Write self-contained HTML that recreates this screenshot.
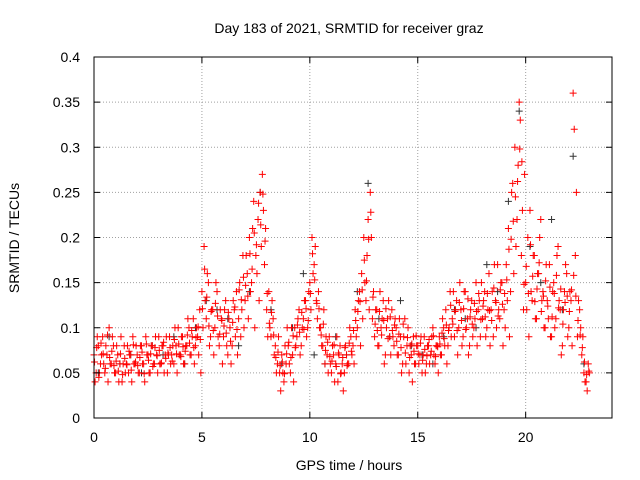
<!DOCTYPE html>
<html><head><meta charset="utf-8"><style>
body{margin:0;background:#fff;}
svg{display:block;font-family:"Liberation Sans",sans-serif;}
</style></head><body>
<svg id="chart" width="640" height="480">
<text x="349" y="33" text-anchor="middle" font-size="14">Day 183 of 2021, SRMTID for receiver graz</text>
<text x="349" y="470" text-anchor="middle" font-size="14">GPS time / hours</text>
<text transform="translate(19,238) rotate(-90)" text-anchor="middle" font-size="14">SRMTID / TECUs</text>
<g id="grid"></g><g id="marks"></g><g id="axes"></g>
</svg>
<script>
const xTicks=[0,5,10,15,20];
const yTicks=[0,0.05,0.1,0.15,0.2,0.25,0.3,0.35,0.4];
const yTickLabels=["0","0.05","0.1","0.15","0.2","0.25","0.3","0.35","0.4"];
const redStep=0.1;
const redValuesA=[.07,.05,.08,.06,.09,.05,.07,.10,.06,.08,.05,.07,.06,.04,.08,.06,.05,.07,.09,.06,.07,.05,.08,.06,.09,.07,.05,.08,.06,.07,.09,.06,.08,.07,.05,.09,.07,.06,.08,.10,.07,.09,.06,.08,.10,.07,.11,.08,.09,.12,.14,.19,.11,.15,.09,.12,.10,.14,.08,.11,.09,.13,.07,.10,.08,.12,.14,.11,.09,.18,.13,.16,.20,.15,.24,.18,.22,.25,.27,.17,.12,.14,.09,.11,.08,.06,.05,.07,.04,.06,.08,.05,.07,.10,.09,.12,.08,.11,.13,.10,.15,.20,.17,.13,.14,.10,.08,.06,.07,.09,.05,.07,.06,.04,.08,.06,.05,.07,.06,.09,.08,.12,.10,.14,.16,.20,.13,.22,.25,.11,.09,.12,.08,.10,.13,.07,.11,.09,.12,.08,.10,.07,.09,.06,.11,.08,.05,.07,.09,.06,.08,.07,.05,.09,.06,.08,.07,.10,.06,.08,.09,.07,.10,.12,.08,.14,.11,.09,.13,.10,.12,.09,.14,.11,.08,.13,.10,.15,.12,.09,.11,.14,.10,.16,.12,.09,.13,.17,.11,.15,.12,.17,.21,.14,.26,.30,.22,.35,.18,.12,.15,.20,.23,.13,.18,.11,.16,.22,.14,.10,.13,.17,.09,.15,.11,.19,.12,.08,.14,.16,.10,.13,.36,.18,.09,.12,.07,.05,.04,.06];
const redValuesB=[.04,.09,.05,.07,.06,.08,.04,.06,.09,.05,.08,.04,.09,.06,.05,.08,.07,.04,.06,.08,.05,.08,.06,.04,.07,.05,.08,.06,.09,.05,.06,.08,.05,.09,.07,.06,.08,.10,.05,.07,.09,.06,.08,.11,.07,.09,.06,.10,.07,.05,.10,.13,.16,.08,.12,.07,.15,.09,.12,.06,.12,.08,.11,.06,.13,.09,.07,.15,.12,.10,.18,.11,.14,.21,.10,.16,.13,.19,.23,.21,.09,.10,.13,.07,.05,.09,.03,.05,.08,.10,.06,.10,.04,.08,.11,.07,.10,.13,.09,.14,.12,.16,.19,.11,.10,.08,.12,.09,.05,.06,.08,.04,.09,.07,.05,.03,.08,.06,.10,.07,.06,.09,.13,.08,.11,.15,.18,.12,.20,.14,.12,.08,.14,.11,.06,.10,.13,.07,.09,.11,.07,.11,.05,.09,.06,.10,.08,.04,.06,.08,.06,.09,.07,.05,.08,.06,.09,.07,.08,.05,.07,.11,.08,.06,.10,.09,.14,.12,.07,.15,.08,.14,.10,.07,.12,.09,.11,.08,.13,.15,.13,.09,.12,.08,.14,.17,.10,.12,.15,.08,.10,.13,.09,.25,.16,.19,.28,.33,.23,.27,.12,.09,.14,.18,.11,.16,.20,.13,.10,.17,.11,.09,.14,.10,.18,.13,.07,.12,.17,.09,.14,.08,.32,.25,.13,.10,.09,.04,.03,.05];
const redValuesC=[.062,.078,.045,.083,.071,.055,.092,.067,.074,.058,.063,.052,.071,.048,.066,.059,.074,.053,.081,.062,.058,.067,.073,.049,.082,.064,.071,.057,.078,.069,.075,.061,.084,.066,.072,.078,.063,.087,.071,.082,.068,.079,.074,.092,.083,.097,.078,.089,.101,.087,.121,.165,.134,.102,.118,.097,.127,.113,.093,.108,.102,.094,.117,.085,.106,.123,.098,.142,.131,.156,.147,.135,.182,.165,.205,.192,.238,.214,.248,.196,.138,.105,.117,.092,.067,.073,.058,.062,.049,.071,.084,.067,.091,.078,.103,.095,.117,.098,.121,.108,.138,.182,.153,.127,.121,.092,.104,.075,.084,.068,.063,.081,.057,.072,.049,.067,.078,.058,.083,.074,.097,.108,.118,.129,.142,.175,.152,.198,.228,.134,.104,.097,.118,.092,.108,.121,.088,.112,.097,.103,.085,.093,.078,.104,.072,.089,.067,.082,.074,.091,.071,.083,.064,.076,.069,.087,.074,.091,.068,.079,.082,.094,.088,.103,.097,.125,.104,.118,.097,.128,.108,.121,.098,.132,.112,.104,.127,.118,.138,.109,.124,.112,.138,.119,.108,.144,.128,.113,.142,.126,.138,.153,.187,.198,.218,.245,.262,.298,.284,.148,.168,.138,.192,.157,.129,.143,.172,.118,.135,.152,.124,.145,.112,.138,.158,.122,.143,.104,.128,.135,.118,.142,.158,.135,.108,.092,.078,.062,.048,.052];
const blackStep=0.5;
const blackValues=[.05,.09,.06,.07,.05,.08,.07,.09,.06,.10,.13,.12,.11,.08,.14,.25,.12,.06,.10,.16,.07,.06,.09,.07,.14,.26,.11,.09,.13,.08,.07,.06,.09,.12,.11,.10,.17,.14,.24,.34,.19,.15,.22,.12,.29,.06];

const L=94,R=612,T=57,B=418,xMax=24,yMax=0.4;
const sx=v=>L+v/xMax*(R-L), sy=v=>B-v/yMax*(B-T);
const NS="http://www.w3.org/2000/svg";
function mk(tag,attrs,parent){const e=document.createElementNS(NS,tag);for(const k in attrs)e.setAttribute(k,attrs[k]);parent.appendChild(e);return e;}
const grid=document.getElementById('grid'),axes=document.getElementById('axes'),marks=document.getElementById('marks');
xTicks.forEach(v=>{
  const g=mk('line',{x1:sx(v),x2:sx(v),y1:T,y2:B,stroke:'#a0a0a0','stroke-dasharray':'1,2'},grid);
  
  
  mk('line',{x1:sx(v),x2:sx(v),y1:B,y2:B-6,stroke:'#000'},axes);
  mk('line',{x1:sx(v),x2:sx(v),y1:T,y2:T+6,stroke:'#000'},axes);
  const t=mk('text',{x:sx(v),y:B+24,'text-anchor':'middle','font-size':14},axes);t.textContent=v;
  
  
});
yTicks.forEach((v,i)=>{
  const g=mk('line',{x1:L,x2:R,y1:sy(v),y2:sy(v),stroke:'#a0a0a0','stroke-dasharray':'1,2'},grid);
  
  
  mk('line',{x1:L,x2:L+6,y1:sy(v),y2:sy(v),stroke:'#000'},axes);
  mk('line',{x1:R,x2:R-6,y1:sy(v),y2:sy(v),stroke:'#000'},axes);
  const t=mk('text',{x:L-14,y:sy(v)+5,'text-anchor':'end','font-size':14},axes);t.textContent=yTickLabels[i];
  
  
});
const fr=mk('rect',{x:L,y:T,width:R-L,height:B-T,fill:'none',stroke:'#000'},axes);


function plus(t,v,color,name){
  const x=sx(t),y=sy(v);
  const p=mk('path',{d:`M${x-3.5},${y}H${x+3.5}M${x},${y-3.5}V${y+3.5}`,stroke:color,'stroke-width':1,fill:'none'},marks);
  
  
}
blackValues.forEach((v,i)=>plus(i*blackStep+0.2,v,'#333','black-point'));
redValuesA.forEach((v,i)=>plus(i*redStep,v,'#ff0000','red-point'));
redValuesB.forEach((v,i)=>plus(i*redStep+0.05,v,'#ff0000','red-point'));
redValuesC.forEach((v,i)=>plus(i*redStep+0.025,v,'#ff0000','red-point'));
</script>
</body></html>
